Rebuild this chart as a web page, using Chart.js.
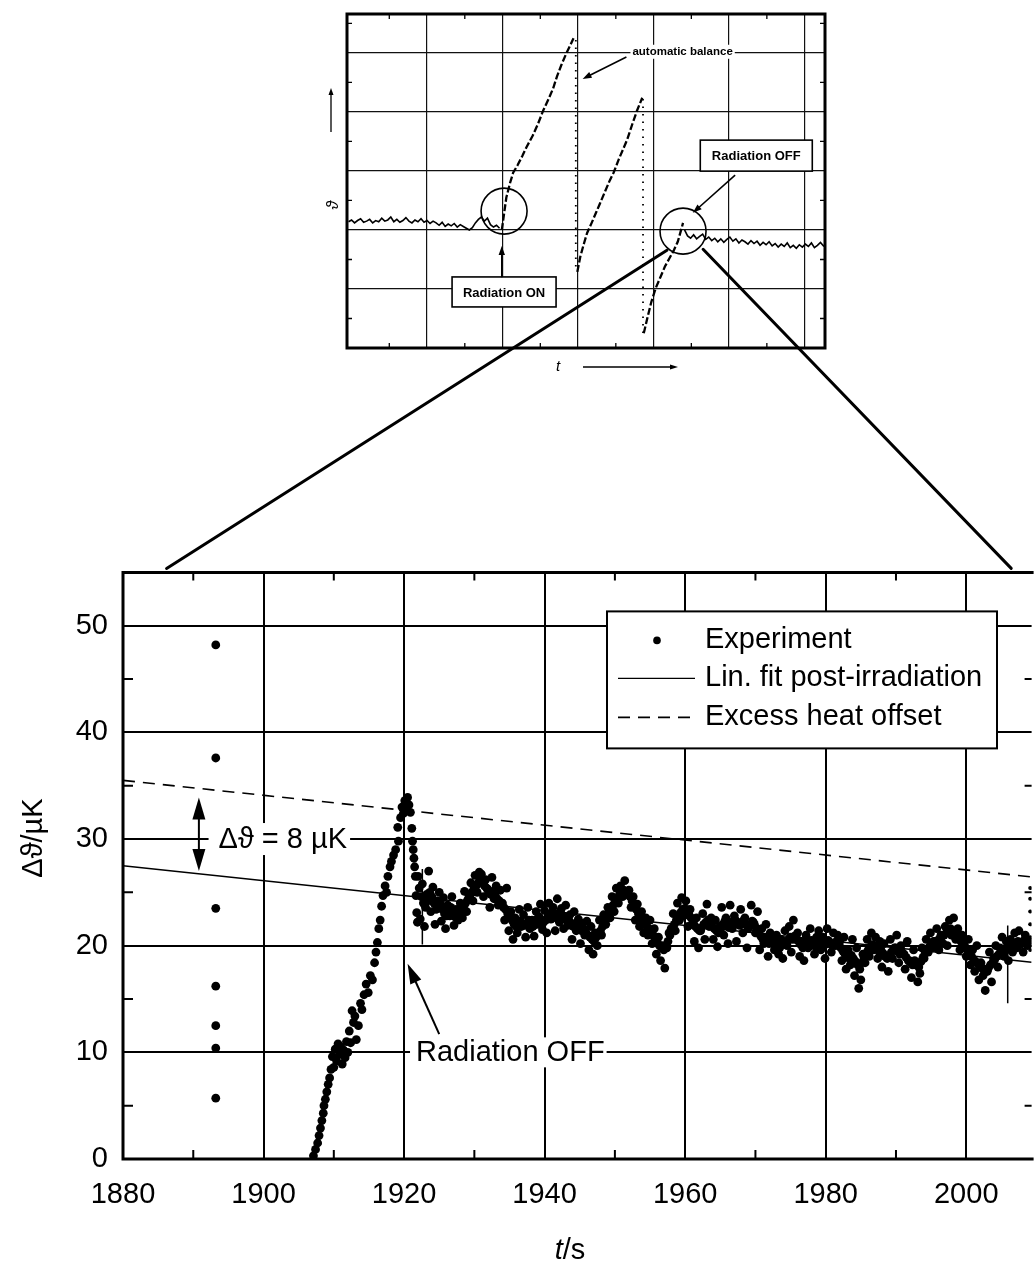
<!DOCTYPE html>
<html>
<head>
<meta charset="utf-8">
<script src="https://cdn.jsdelivr.net/npm/chart.js@4.4.0/dist/chart.umd.min.js"></script>
<style>
  body { margin: 0; background: #fff; }
  #wrap { position: relative; width: 1036px; height: 1264px; overflow: hidden; background: #fff; }
  canvas { position: absolute; }
  #inset { left: 300px; top: 0; }
  #main { left: 0; top: 540px; }
  #links { left: 0; top: 0; pointer-events: none; }
</style>
</head>
<body>
<div id="wrap">
  <canvas id="inset" width="560" height="400"></canvas>
  <canvas id="main" width="1036" height="724"></canvas>
  <canvas id="links" width="1036" height="1264"></canvas>
</div>
<script>
// ---- main plot: t in s, temperature rise in µK ----
const xTicks = [1880, 1900, 1920, 1940, 1960, 1980, 2000];
const yTicks = [0, 10, 20, 30, 40, 50];
const xMinor = [1890, 1910, 1930, 1950, 1970, 1990, 2010];
const yMinor = [5, 15, 25, 35, 45, 55];

// odd readings before the beam
const strayT = [1893.2, 1893.2, 1893.2, 1893.2, 1893.2, 1893.2, 1893.2];
const strayV = [48.2, 37.6, 23.5, 16.2, 12.5, 10.4, 5.7];

// heating while the beam is on
const rampT = [1907.1, 1907.4, 1907.7, 1907.9, 1908.1, 1908.3, 1908.5, 1908.6, 1908.8, 1909.0,
  1909.2, 1909.4, 1909.6, 1909.8, 1910.0, 1910.2, 1910.4, 1910.6, 1910.8, 1911.0,
  1911.2, 1911.4, 1911.6, 1911.8, 1912.0, 1912.2, 1912.4, 1912.6, 1912.8, 1913.0,
  1913.2, 1913.5, 1913.8, 1914.0, 1914.3, 1914.6, 1914.9, 1915.2, 1915.5, 1915.8,
  1916.0, 1916.2, 1916.4, 1916.6, 1916.8, 1917.0, 1917.3, 1917.5, 1917.7, 1918.0,
  1918.2, 1918.5, 1918.8, 1919.1, 1919.2, 1919.5, 1919.7, 1919.9, 1920.1, 1920.3,
  1920.5, 1920.7, 1920.9, 1921.1, 1921.2, 1921.3, 1921.4, 1921.5, 1921.6, 1921.7,
  1921.8, 1921.9];
const rampV = [0.3, 0.9, 1.5, 2.2, 2.9, 3.6, 4.3, 5.0, 5.6, 6.3,
  7.0, 7.6, 8.4, 9.6, 8.6, 10.3, 9.2, 10.8, 9.8, 10.5,
  8.9, 10.2, 9.5, 11.0, 10.0, 12.0, 10.9, 13.9, 12.8, 13.4,
  11.2, 12.5, 14.6, 14.0, 15.4, 16.4, 15.6, 17.2, 16.8, 18.4,
  19.4, 20.3, 21.6, 22.4, 23.7, 24.7, 25.6, 25.0, 26.5, 27.4,
  27.9, 28.5, 29.0, 31.1, 29.8, 32.0, 33.0, 32.4, 33.6, 32.8,
  33.9, 33.2, 32.5, 31.0, 29.8, 29.0, 28.2, 27.4, 26.5, 24.7,
  23.1, 22.2];

// after the beam: one reading every 0.3 s from 1922.0 s (band edges)
const postStart = 1922.0;
const postStep = 0.3;
const postV = [
  26.5, 22.5, 25.8, 21.8, 24.8, 27.0, 23.2, 25.5, 22.0, 24.2,
  25.0, 22.3, 24.5, 21.6, 23.8, 22.8, 24.6, 21.9, 23.4, 22.4,
  24.0, 22.6, 25.1, 23.2, 24.8, 25.9, 24.2, 26.6, 25.0, 26.9,
  26.7, 24.6, 26.2, 25.3, 23.6, 26.4, 24.4, 25.6, 23.8, 25.2,
  24.0, 22.4, 25.4, 21.4, 23.2, 20.6, 22.6, 21.2, 23.4, 21.8,
  22.9, 20.8, 23.6, 21.6, 22.4, 20.9, 23.2, 22.0, 23.9, 21.5,
  23.3, 21.2, 24.0, 22.5, 23.6, 21.4, 24.4, 22.2, 23.5, 21.6,
  23.8, 21.9, 22.9, 20.6, 23.2, 21.4, 22.5, 20.2, 22.1, 21.0,
  22.3, 19.6, 21.8, 19.2, 21.2, 20.0, 22.4, 21.0, 22.9, 22.0,
  23.6, 22.6, 24.6, 23.2, 25.4, 24.0, 25.6, 24.6, 26.1, 25.0,
  25.2, 23.6, 24.6, 22.4, 23.9, 21.8, 23.2, 21.2, 22.6, 21.0,
  22.4, 20.2, 21.6, 19.2, 20.8, 18.6, 20.0, 17.9, 19.8, 21.2,
  21.6, 23.0, 21.4, 24.0, 22.4, 24.5, 22.8, 24.2, 21.8, 23.4,
  22.0, 20.4, 22.6, 19.8, 21.4, 23.0, 20.6, 23.9, 21.8, 22.6,
  20.6, 22.4, 19.9, 21.8, 23.6, 21.0, 22.6, 20.2, 23.8, 21.6,
  22.8, 20.4, 22.0, 23.4, 21.2, 22.6, 19.8, 21.8, 23.8, 22.2,
  21.2, 23.2, 19.6, 21.6, 20.2, 22.0, 19.0, 21.2, 20.4, 19.6,
  21.0, 19.2, 20.6, 18.8, 21.4, 20.0, 21.8, 19.4, 22.4, 20.6,
  21.2, 19.0, 20.4, 18.6, 21.0, 19.8, 21.6, 20.2, 19.2, 20.8,
  21.4, 19.6, 20.8, 18.8, 21.6, 20.2, 19.4, 21.2, 20.0, 21.0,
  20.4, 18.6, 20.8, 17.8, 19.6, 18.2, 20.6, 17.2, 19.8, 16.0,
  16.8, 19.2, 18.4, 20.6, 19.0, 21.2, 19.6, 20.8, 18.8, 20.4,
  18.0, 20.2, 19.0, 17.6, 20.6, 18.8, 19.8, 21.0, 18.4, 20.0,
  19.2, 17.8, 20.4, 18.6, 17.0, 19.6, 18.2, 16.6, 17.4, 19.8,
  18.8, 20.6, 19.4, 21.2, 19.8, 20.4, 21.6, 19.6, 21.0, 20.2,
  21.8, 20.0, 22.4, 21.0, 22.6, 20.6, 21.6, 19.6, 21.0, 20.4,
  19.0, 20.6, 18.2, 19.6, 17.6, 20.0, 16.8, 18.4, 17.2, 15.8,
  17.6, 19.4, 16.6, 18.8, 20.0, 18.0, 19.8, 20.8, 19.0, 20.4,
  18.6, 20.6, 19.4, 21.2, 19.8, 21.4, 20.2, 19.4, 21.0, 20.0
];
// same record, readings in the middle of the band, from 1922.15 s
const coreStart = 1922.15;
const coreV = [
  25.4, 24.6, 24.0, 23.6, 24.2, 25.0, 24.6, 24.0, 23.4, 23.8,
  23.9, 23.4, 23.0, 22.8, 23.3, 23.6, 23.1, 22.7, 22.9, 23.2,
  23.4, 23.6, 24.0, 24.3, 24.6, 25.0, 25.4, 25.6, 25.9, 26.1,
  25.9, 25.6, 25.4, 25.0, 24.8, 25.1, 24.7, 24.4, 24.2, 23.9,
  23.6, 23.4, 23.0, 22.6, 22.4, 22.0, 21.8, 22.1, 22.3, 22.0,
  21.9, 22.1, 22.4, 22.2, 21.8, 22.0, 22.5, 22.7, 22.4, 22.2,
  22.4, 22.6, 22.9, 23.1, 22.8, 22.6, 23.0, 23.2, 22.8, 22.5,
  22.6, 22.4, 22.0, 21.8, 22.1, 21.9, 21.6, 21.4, 21.6, 21.3,
  21.0, 20.8, 20.6, 20.4, 20.8, 21.1, 21.4, 21.8, 22.2, 22.6,
  23.0, 23.4, 23.8, 24.1, 24.4, 24.8, 25.0, 25.2, 25.1, 24.9,
  24.6, 24.2, 23.8, 23.4, 23.0, 22.6, 22.3, 22.0, 21.8, 21.6,
  21.4, 21.0, 20.6, 20.3, 20.0, 19.8, 19.6, 19.9, 20.4, 21.0,
  21.6, 22.0, 22.4, 22.8, 23.1, 23.4, 23.5, 23.2, 22.9, 22.6,
  22.2, 21.8, 21.6, 21.4, 21.7, 22.0, 22.2, 22.4, 22.1, 21.8,
  21.6, 21.4, 21.2, 21.6, 22.0, 22.3, 22.0, 21.7, 22.0, 22.3,
  22.4, 22.2, 21.9, 22.1, 22.4, 22.0, 21.6, 21.9, 22.3, 22.0,
  21.6, 21.2, 20.9, 20.6, 20.8, 20.5, 20.2, 20.4, 20.6, 20.3,
  20.0, 19.8, 20.1, 20.4, 20.2, 20.5, 20.8, 20.6, 20.9, 20.7,
  20.4, 20.1, 19.8, 20.0, 20.3, 20.1, 20.5, 20.2, 19.9, 20.2,
  20.5, 20.3, 20.0, 20.2, 20.5, 20.3, 20.0, 20.2, 20.4, 20.1,
  19.8, 19.5, 19.2, 19.0, 18.8, 19.1, 18.8, 18.5, 18.2, 17.8,
  18.4, 18.9, 19.3, 19.6, 19.9, 20.1, 20.0, 19.7, 19.5, 19.6,
  19.3, 19.0, 18.8, 19.1, 19.4, 19.6, 19.8, 19.5, 19.2, 19.4,
  19.2, 18.9, 18.6, 18.4, 18.2, 18.6, 18.3, 18.0, 18.5, 18.9,
  19.3, 19.6, 19.9, 20.2, 20.4, 20.2, 20.5, 20.7, 20.9, 21.0,
  21.2, 21.4, 21.6, 21.4, 21.2, 21.0, 20.7, 20.4, 20.2, 19.9,
  19.6, 19.3, 19.0, 18.7, 18.5, 18.3, 18.1, 17.9, 17.7, 17.6,
  17.9, 18.2, 18.4, 18.7, 19.0, 19.2, 19.4, 19.6, 19.5, 19.7,
  19.9, 20.1, 19.8, 20.2, 20.4, 20.1, 20.3, 20.5, 20.2, 20.4
];

// next balance starting at the right edge
const edgeT = 2009.1;
const edgeV = [19.6, 20.8, 22.0, 23.2, 24.4, 25.4];

// single jumps drawn as short lines
const spikeT = [1922.6, 2005.9];
const spikeLow = [20.1, 14.6];
const spikeHigh = [27.2, 21.9];

// linear fit and the offset copy
const fitT = [1880, 2009.3];
const fitV = [27.5, 18.45];
const offsetV = [35.5, 26.45];

// ---- overview inset (arbitrary units) ----
const insetXTicks = [1, 2, 3, 4, 5, 6];
const insetYTicks = [1, 2, 3, 4, 5];
const insetMinor = [0.5, 1.5, 2.5, 3.5, 4.5, 5.5];

const baseStart = -0.04, baseStep = 0.04;
const baseV = [
  2.14, 2.17, 2.12, 2.16, 2.19, 2.13, 2.15, 2.18, 2.12, 2.16,
  2.14, 2.20, 2.15, 2.17, 2.22, 2.14, 2.18, 2.13, 2.16, 2.21,
  2.15, 2.12, 2.17, 2.14, 2.19, 2.13, 2.16, 2.11, 2.15, 2.12,
  2.08, 2.13, 2.06, 2.10, 2.07, 2.11, 2.05, 2.09, 2.06, 2.03,
  2.00, 2.04, 2.12, 2.18, 2.22, 2.15, 2.20, 2.09, 2.05, 2.08, 2.03
];
const rise1X = [1.99, 2.05, 2.10, 2.14, 2.20, 2.26, 2.32, 2.40, 2.47, 2.54, 2.61, 2.67, 2.72, 2.78, 2.84, 2.90, 2.94];
const rise1Y = [2.00, 2.55, 2.80, 2.97, 3.10, 3.25, 3.41, 3.60, 3.80, 4.03, 4.22, 4.40, 4.60, 4.80, 4.98, 5.14, 5.25];
const rise2X = [2.99, 3.03, 3.08, 3.12, 3.18, 3.24, 3.29, 3.36, 3.42, 3.47, 3.54, 3.60, 3.65, 3.72, 3.78, 3.85];
const rise2Y = [1.29, 1.55, 1.78, 1.95, 2.12, 2.30, 2.45, 2.66, 2.84, 2.97, 3.20, 3.38, 3.53, 3.80, 4.02, 4.24];
const rise3X = [3.87, 3.92, 3.97, 4.03, 4.09, 4.15, 4.21, 4.27, 4.32, 4.36, 4.39];
const rise3Y = [0.25, 0.52, 0.78, 1.02, 1.20, 1.38, 1.52, 1.66, 1.80, 1.98, 2.12];
const dropX = [2.97, 3.86];
const dropTop = [5.22, 4.22];
const dropBottom = [1.29, 0.25];
const tailStart = 4.41, tailStep = 0.04;
const tailV = [
  2.00, 1.90, 1.86, 1.92, 1.85, 1.89, 1.93, 1.84, 1.88, 1.82,
  1.86, 1.80, 1.85, 1.79, 1.84, 1.88, 1.81, 1.85, 1.78, 1.83,
  1.80, 1.76, 1.82, 1.77, 1.81, 1.74, 1.79, 1.75, 1.80, 1.73,
  1.77, 1.71, 1.76, 1.72, 1.78, 1.70, 1.74, 1.69, 1.75, 1.71,
  1.76, 1.72, 1.78, 1.70, 1.74, 1.79, 1.73, 1.76
];

const FONT = "'Liberation Sans', Arial, 'DejaVu Sans', sans-serif";
Chart.defaults.font.family = FONT;
Chart.defaults.color = '#000';

function arrowHead(ctx, x0, y0, x1, y1, len, half) {
  const a = Math.atan2(y1 - y0, x1 - x0);
  ctx.beginPath();
  ctx.moveTo(x1, y1);
  ctx.lineTo(x1 - len * Math.cos(a) + half * Math.sin(a), y1 - len * Math.sin(a) - half * Math.cos(a));
  ctx.lineTo(x1 - len * Math.cos(a) - half * Math.sin(a), y1 - len * Math.sin(a) + half * Math.cos(a));
  ctx.closePath();
  ctx.fill();
}

function arrow(ctx, x0, y0, x1, y1, len, half) {
  const a = Math.atan2(y1 - y0, x1 - x0);
  ctx.beginPath();
  ctx.moveTo(x0, y0);
  ctx.lineTo(x1 - len * 0.6 * Math.cos(a), y1 - len * 0.6 * Math.sin(a));
  ctx.stroke();
  arrowHead(ctx, x0, y0, x1, y1, len, half);
}

// ---- main chart ----
const expPoints = [];
strayT.forEach((t, i) => expPoints.push({ x: t, y: strayV[i] }));
rampT.forEach((t, i) => expPoints.push({ x: t, y: rampV[i] }));
postV.forEach((v, i) => expPoints.push({ x: postStart + i * postStep, y: v }));
coreV.forEach((v, i) => expPoints.push({ x: coreStart + i * postStep, y: v }));
edgeV.forEach(v => expPoints.push({ x: edgeT, y: v }));

const spikePoints = [];
spikeT.forEach((t, i) => {
  spikePoints.push({ x: t, y: spikeLow[i] }, { x: t, y: spikeHigh[i] }, { x: t, y: null });
});

// annotation anchors (data units)
const gapArrowT = 1890.8, gapLow = 27.0, gapHigh = 33.9;
const gapNoteT = 1893.6, gapNoteV = 30;
const offNoteT = 1921.7, offNoteV = 10;
const offArrowFrom = [1925.0, 11.7], offArrowTo = [1920.5, 18.3];

const mainDecor = {
  id: 'mainDecor',
  afterDatasetsDraw(chart) {
    const { ctx, chartArea: a, scales: { x, y } } = chart;
    ctx.save();
    ctx.strokeStyle = '#000';
    ctx.fillStyle = '#000';

    // minor ticks
    ctx.lineWidth = 2;
    ctx.beginPath();
    xMinor.forEach(t => {
      const p = x.getPixelForValue(t);
      if (p > a.right) return;
      ctx.moveTo(p, a.top); ctx.lineTo(p, a.top + 8);
      ctx.moveTo(p, a.bottom); ctx.lineTo(p, a.bottom - 9);
    });
    yMinor.forEach(v => {
      const p = y.getPixelForValue(v);
      ctx.moveTo(a.left, p); ctx.lineTo(a.left + 10, p);
      ctx.moveTo(a.right, p); ctx.lineTo(a.right - 7, p);
    });
    ctx.stroke();

    // frame
    ctx.lineWidth = 3;
    ctx.beginPath();
    ctx.moveTo(a.right + 2, a.top); ctx.lineTo(a.left, a.top);
    ctx.lineTo(a.left, a.bottom); ctx.lineTo(a.right + 2, a.bottom);
    ctx.stroke();

    ctx.font = '29px ' + FONT;
    ctx.textBaseline = 'middle';

    // offset arrow and label
    const gx = x.getPixelForValue(gapArrowT);
    const gy0 = y.getPixelForValue(gapLow), gy1 = y.getPixelForValue(gapHigh);
    ctx.lineWidth = 2;
    ctx.beginPath(); ctx.moveTo(gx, gy0 - 12); ctx.lineTo(gx, gy1 + 12); ctx.stroke();
    arrowHead(ctx, gx, gy1, gx, gy0, 22, 6.5);
    arrowHead(ctx, gx, gy0, gx, gy1, 22, 6.5);

    const gapLabel = 'Δϑ = 8 µK';
    const nx = x.getPixelForValue(gapNoteT), ny = y.getPixelForValue(gapNoteV);
    let w = ctx.measureText(gapLabel).width;
    ctx.fillStyle = '#fff'; ctx.fillRect(nx - 10, ny - 16, w + 13, 32);
    ctx.fillStyle = '#000'; ctx.fillText(gapLabel, nx, ny + 1);

    // beam off note
    const offLabel = 'Radiation OFF';
    const ox = x.getPixelForValue(offNoteT), oy = y.getPixelForValue(offNoteV);
    w = ctx.measureText(offLabel).width;
    ctx.fillStyle = '#fff'; ctx.fillRect(ox - 6, oy - 15, w + 8, 30);
    ctx.fillStyle = '#000'; ctx.fillText(offLabel, ox, oy + 1);
    arrow(ctx, x.getPixelForValue(offArrowFrom[0]), y.getPixelForValue(offArrowFrom[1]),
      x.getPixelForValue(offArrowTo[0]), y.getPixelForValue(offArrowTo[1]), 20, 6);

    // legend box
    const lx = a.left + 484, ly = a.top + 39, lw = 390, lh = 137;
    ctx.fillStyle = '#fff'; ctx.fillRect(lx, ly, lw, lh);
    ctx.lineWidth = 2; ctx.strokeRect(lx, ly, lw, lh);
    ctx.fillStyle = '#000';
    const ds = chart.data.datasets;
    const rows = [ly + 29, ly + 67, ly + 106];
    ctx.beginPath(); ctx.arc(lx + 50, rows[0], 3.8, 0, Math.PI * 2); ctx.fill();
    ctx.lineWidth = ds[2].borderWidth;
    ctx.beginPath(); ctx.moveTo(lx + 11, rows[1]); ctx.lineTo(lx + 88, rows[1]); ctx.stroke();
    ctx.lineWidth = ds[3].borderWidth;
    ctx.setLineDash(ds[3].borderDash);
    ctx.beginPath(); ctx.moveTo(lx + 11, rows[2]); ctx.lineTo(lx + 86, rows[2]); ctx.stroke();
    ctx.setLineDash([]);
    ctx.fillText(ds[0].label, lx + 98, rows[0]);
    ctx.fillText(ds[2].label, lx + 98, rows[1]);
    ctx.fillText(ds[3].label, lx + 98, rows[2]);

    ctx.restore();
  },
  afterDraw(chart) {
    const { ctx } = chart;
    ctx.save();
    ctx.fillStyle = '#000';
    ctx.textBaseline = 'middle';
    // y title
    ctx.save();
    ctx.translate(34, 298);
    ctx.rotate(-Math.PI / 2);
    ctx.textAlign = 'center';
    ctx.font = '29px ' + FONT;
    ctx.fillText('Δϑ/µK', 0, 0);
    ctx.restore();
    // x title
    ctx.font = 'italic 29px ' + FONT;
    const tw = ctx.measureText('t').width;
    ctx.font = '29px ' + FONT;
    const sw = ctx.measureText('/s').width;
    const start = 570 - (tw + sw) / 2;
    ctx.font = 'italic 29px ' + FONT;
    ctx.fillText('t', start, 711);
    ctx.font = '29px ' + FONT;
    ctx.fillText('/s', start + tw, 711);
    ctx.restore();
  }
};

const mainChart = new Chart(document.getElementById('main'), {
  type: 'scatter',
  data: {
    datasets: [
      {
        label: 'Experiment',
        data: expPoints,
        showLine: false,
        pointRadius: c => (c.raw && c.raw.x > 2009 ? 2 : 4.4),
        pointBackgroundColor: '#000',
        pointBorderColor: '#000',
        pointBorderWidth: 0,
        borderColor: '#000'
      },
      {
        label: 'jumps',
        data: spikePoints,
        showLine: true,
        spanGaps: false,
        pointRadius: 0,
        borderColor: '#000',
        borderWidth: 1.5
      },
      {
        label: 'Lin. fit post-irradiation',
        data: fitT.map((t, i) => ({ x: t, y: fitV[i] })),
        showLine: true,
        pointRadius: 0,
        borderColor: '#000',
        borderWidth: 1.4
      },
      {
        label: 'Excess heat offset',
        data: fitT.map((t, i) => ({ x: t, y: offsetV[i] })),
        showLine: true,
        pointRadius: 0,
        borderColor: '#000',
        borderWidth: 1.6,
        borderDash: [12, 8]
      }
    ]
  },
  options: {
    responsive: false,
    animation: false,
    events: [],
    layout: { padding: { top: 19, right: 0, left: 0, bottom: 0 } },
    plugins: { legend: { display: false }, tooltip: { enabled: false } },
    scales: {
      x: {
        type: 'linear',
        min: 1880,
        max: 2009.3,
        afterBuildTicks: s => { s.ticks = xTicks.map(v => ({ value: v })); },
        afterFit: s => { s.height = 105; },
        ticks: { font: { size: 29 }, padding: 19, color: '#000', callback: v => String(v) },
        grid: { color: '#000', lineWidth: 2, drawTicks: false },
        border: { display: false }
      },
      y: {
        type: 'linear',
        min: 0,
        max: 55,
        afterBuildTicks: s => { s.ticks = yTicks.map(v => ({ value: v })); },
        afterFit: s => { s.width = 123; },
        ticks: { font: { size: 29 }, padding: 15, color: '#000', callback: v => String(v) },
        grid: { color: '#000', lineWidth: 2, drawTicks: false },
        border: { display: false }
      }
    }
  },
  plugins: [mainDecor]
});

// ---- inset chart ----
const circleA = [2.02, 2.32], circleB = [4.39, 1.98], circleR = 23;
const onBox = { x: 2.02, y: 0.95, w: 104, h: 30, text: 'Radiation ON' };
const offBox = { x: 5.36, y: 3.26, w: 112, h: 31, text: 'Radiation OFF' };
const onArrow = [[1.99, 1.20], [1.99, 1.73]];
const offArrow = [[5.08, 2.93], [4.52, 2.29]];
const balanceText = { x: 3.72, y: 5.02, text: 'automatic balance' };
const balanceArrow = [[3.64, 4.93], [3.06, 4.56]];

const insetDecor = {
  id: 'insetDecor',
  afterDatasetsDraw(chart) {
    const { ctx, chartArea: a, scales: { x, y } } = chart;
    ctx.save();
    ctx.strokeStyle = '#000';
    ctx.fillStyle = '#000';

    ctx.lineWidth = 1.3;
    ctx.beginPath();
    insetMinor.forEach(v => {
      const px = x.getPixelForValue(v);
      ctx.moveTo(px, a.top); ctx.lineTo(px, a.top + 5);
      ctx.moveTo(px, a.bottom); ctx.lineTo(px, a.bottom - 5);
      const py = y.getPixelForValue(v);
      ctx.moveTo(a.left, py); ctx.lineTo(a.left + 5, py);
      ctx.moveTo(a.right, py); ctx.lineTo(a.right - 5, py);
    });
    ctx.stroke();

    ctx.lineWidth = 3;
    ctx.strokeRect(a.left, a.top, a.right - a.left, a.bottom - a.top);

    // circles
    ctx.lineWidth = 1.6;
    [circleA, circleB].forEach(c => {
      ctx.beginPath();
      ctx.arc(x.getPixelForValue(c[0]), y.getPixelForValue(c[1]), circleR, 0, Math.PI * 2);
      ctx.stroke();
    });

    // boxes
    ctx.font = 'bold 13px ' + FONT;
    ctx.textAlign = 'center';
    ctx.textBaseline = 'middle';
    [onBox, offBox].forEach(b => {
      const cx = x.getPixelForValue(b.x), cy = y.getPixelForValue(b.y);
      ctx.fillStyle = '#fff';
      ctx.fillRect(cx - b.w / 2, cy - b.h / 2, b.w, b.h);
      ctx.lineWidth = 1.6;
      ctx.strokeRect(cx - b.w / 2, cy - b.h / 2, b.w, b.h);
      ctx.fillStyle = '#000';
      ctx.fillText(b.text, cx, cy + 1);
    });

    ctx.lineWidth = 1.6;
    [onArrow, offArrow, balanceArrow].forEach(ar => {
      arrow(ctx, x.getPixelForValue(ar[0][0]), y.getPixelForValue(ar[0][1]),
        x.getPixelForValue(ar[1][0]), y.getPixelForValue(ar[1][1]), 9, 3.2);
    });

    ctx.textAlign = 'left';
    ctx.font = 'bold 11.5px ' + FONT;
    const bx = x.getPixelForValue(balanceText.x), by = y.getPixelForValue(balanceText.y);
    const bw = ctx.measureText(balanceText.text).width;
    ctx.fillStyle = '#fff'; ctx.fillRect(bx - 2, by - 7, bw + 4, 14);
    ctx.fillStyle = '#000'; ctx.fillText(balanceText.text, bx, by);

    // axis hints
    ctx.save();
    ctx.translate(a.left - 13, a.top + 191);
    ctx.rotate(-Math.PI / 2);
    ctx.font = 'italic 16px ' + FONT;
    ctx.textAlign = 'center';
    ctx.fillText('ϑ', 0, 0);
    ctx.restore();
    ctx.lineWidth = 1.3;
    arrow(ctx, a.left - 16, a.top + 118, a.left - 16, a.top + 74, 7, 2.5);

    ctx.font = 'italic 15px ' + FONT;
    ctx.textAlign = 'center';
    ctx.fillText('t', a.left + 211, a.bottom + 19);
    arrow(ctx, a.left + 236, a.bottom + 19, a.left + 331, a.bottom + 19, 8, 2.6);
    ctx.restore();
  }
};

const line = (pts, width, dash) => ({
  data: pts, showLine: true, pointRadius: 0, borderColor: '#000',
  borderWidth: width, borderDash: dash || []
});

const insetChart = new Chart(document.getElementById('inset'), {
  type: 'scatter',
  data: {
    datasets: [
      line(baseV.map((v, i) => ({ x: baseStart + i * baseStep, y: v })), 1.6),
      line(rise1X.map((v, i) => ({ x: v, y: rise1Y[i] })), 2.3, [7, 2.5]),
      line(rise2X.map((v, i) => ({ x: v, y: rise2Y[i] })), 2.3, [7, 2.5]),
      line(rise3X.map((v, i) => ({ x: v, y: rise3Y[i] })), 2.3, [7, 2.5]),
      line([{ x: dropX[0], y: dropTop[0] }, { x: dropX[0], y: dropBottom[0] }], 1.8, [1.5, 6]),
      line([{ x: dropX[1], y: dropTop[1] }, { x: dropX[1], y: dropBottom[1] }], 1.8, [1.5, 6]),
      line(tailV.map((v, i) => ({ x: tailStart + i * tailStep, y: v })), 1.6)
    ]
  },
  options: {
    responsive: false,
    animation: false,
    events: [],
    layout: { padding: { left: 47, top: 14, right: 35, bottom: 52 } },
    plugins: { legend: { display: false }, tooltip: { enabled: false } },
    scales: {
      x: {
        type: 'linear', min: -0.06, max: 6.27,
        afterBuildTicks: s => { s.ticks = insetXTicks.map(v => ({ value: v })); },
        afterFit: s => { s.height = 0; },
        ticks: { display: false },
        grid: { color: '#111', lineWidth: 1.2, drawTicks: false },
        border: { display: false }
      },
      y: {
        type: 'linear', min: 0, max: 5.66,
        afterBuildTicks: s => { s.ticks = insetYTicks.map(v => ({ value: v })); },
        afterFit: s => { s.width = 0; },
        ticks: { display: false },
        grid: { color: '#111', lineWidth: 1.2, drawTicks: false },
        border: { display: false }
      }
    }
  },
  plugins: [insetDecor]
});

// zoom lines from the inset circle to the main plot
function drawLinks() {
  const c = document.getElementById('links').getContext('2d');
  const ix = insetChart.scales.x, iy = insetChart.scales.y;
  const cx = 300 + ix.getPixelForValue(circleB[0]);
  const cy = iy.getPixelForValue(circleB[1]);
  const mx = mainChart.scales.x;
  const top = 540 + mainChart.chartArea.top - 4;
  c.lineWidth = 3;
  c.strokeStyle = '#000';
  c.lineCap = 'round';
  c.beginPath();
  c.moveTo(cx + 25 * Math.cos(130 * Math.PI / 180), cy + 25 * Math.sin(130 * Math.PI / 180));
  c.lineTo(mx.getPixelForValue(1886.2), top);
  c.moveTo(cx + 27 * Math.cos(42 * Math.PI / 180), cy + 27 * Math.sin(42 * Math.PI / 180));
  c.lineTo(mx.getPixelForValue(2006.4), top);
  c.stroke();
}
drawLinks();
</script>
</body>
</html>
